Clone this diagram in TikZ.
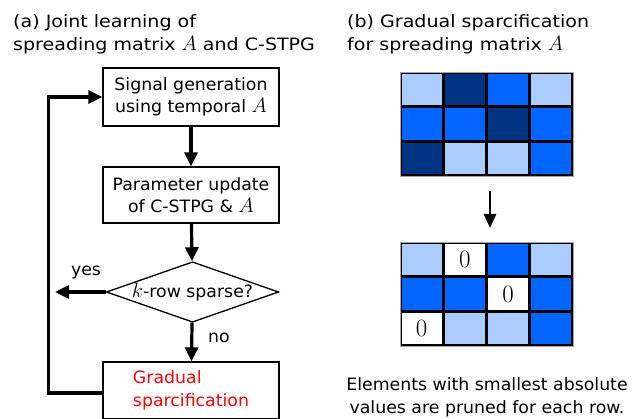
\documentclass[tikz,border=0pt]{standalone}
\usepackage{fontspec}
\setmainfont{DejaVu Sans}
\newfontfamily\titlefont[FakeStretch=1.12]{DejaVu Sans}
\newfontfamily\bodyfont[FakeStretch=1.02]{DejaVu Sans}
\newcommand\bigmath[1]{{\fontsize{20}{20}\selectfont$#1$}}
\usetikzlibrary{arrows.meta,shapes.geometric}
\definecolor{lb}{HTML}{AACCFF}
\definecolor{db}{HTML}{003380}
\definecolor{mb}{HTML}{0066FF}
\begin{document}
\begin{tikzpicture}[x=1pt,y=-1pt,
  every node/.style={font=\bodyfont\fontsize{17}{21.5}\selectfont},
  box/.style={draw, line width=1.3pt, minimum width=176pt, inner sep=0pt, align=center},
  flow/.style={line width=3.2pt, -{Triangle[length=14pt,width=13pt]}},
  title/.style={anchor=north west, inner sep=0pt, align=left, font=\titlefont\fontsize{17}{23}\selectfont},
  cell/.style={inner sep=0pt, minimum width=39.8pt, minimum height=31.2pt, font=\fontsize{27}{27}\selectfont},
  matbg/.style={fill=black, draw=gray!70, line width=0.6pt, inner sep=0pt, minimum width=173pt, minimum height=104pt}]
\useasboundingbox (0,0) rectangle (644,419);

% (a) flowchart
\node[title] (ta) at (13,14) {(a) Joint learning of\\spreading matrix \bigmath{A} and C-STPG};
\node[box, minimum height=58pt] (b1) at (191,97) {Signal generation\\using temporal \bigmath{A}};
\node[box, minimum height=56pt] (b2) at (191,195) {Parameter update\\of C-STPG \& \bigmath{A}};
\node[draw, shape=diamond, line width=1.3pt, aspect=2.85, minimum width=171pt, minimum height=60pt, inner sep=0pt] (d) at (192.5,292) {\bigmath{k}-row sparse?};
\node[box, minimum height=57pt, text=red, align=left, font=\bodyfont\fontsize{17}{23}\selectfont] (b3) at (191,390.5) {Gradual\\sparcification};
\coordinate (yesend) at (55,292);

\draw[flow] (b1) -- (b2);
\draw[flow] (b2) -- (d);
\draw[flow] (d) -- (yesend);
\node (yes) at (86,273) {yes};
\draw[flow] (d) -- (b3);
\node (no) at (219,338) {no};
\draw[flow] ([yshift=-2.5pt]b3.west) -- ++(-54,0) |- (b1.west);

% (b) sparsification
\node[title] (tb) at (347,14) {(b) Gradual sparcification\\for spreading matrix \bigmath{A}};
\node[matbg] (m1) at (486.5,124) {};
\foreach \r/\c/\col in {0/0/lb,0/1/db,0/2/mb,0/3/lb,1/0/mb,1/1/mb,1/2/db,1/3/mb,2/0/db,2/1/lb,2/2/lb,2/3/mb}
  \node[cell, fill=\col] (a\r\c) at ({400+(\c+0.5)*43.25},{72+(\r+0.5)*34.67}) {};

\node[matbg] (m2) at (486.5,294) {};
\foreach \r/\c/\col/\t in {0/0/lb/,0/1/white/0,0/2/mb/,0/3/lb/,1/0/mb/,1/1/mb/,1/2/white/0,1/3/mb/,2/0/white/0,2/1/lb/,2/2/lb/,2/3/mb/}
  \node[cell, fill=\col] (b\r\c) at ({400+(\c+0.5)*43.25},{242+(\r+0.5)*34.67}) {$\t$};

\coordinate (ms) at (490,191);
\coordinate (me) at (490,228);
\draw[line width=2.8pt, -{Triangle[length=14pt,width=12pt]}] (ms) -- (me);

\node[anchor=north, inner sep=0pt, align=center, font=\bodyfont\fontsize{17}{23}\selectfont] (cap) at (487,377) {Elements with smallest absolute\\values are pruned for each row.};
\end{tikzpicture}
\end{document}
